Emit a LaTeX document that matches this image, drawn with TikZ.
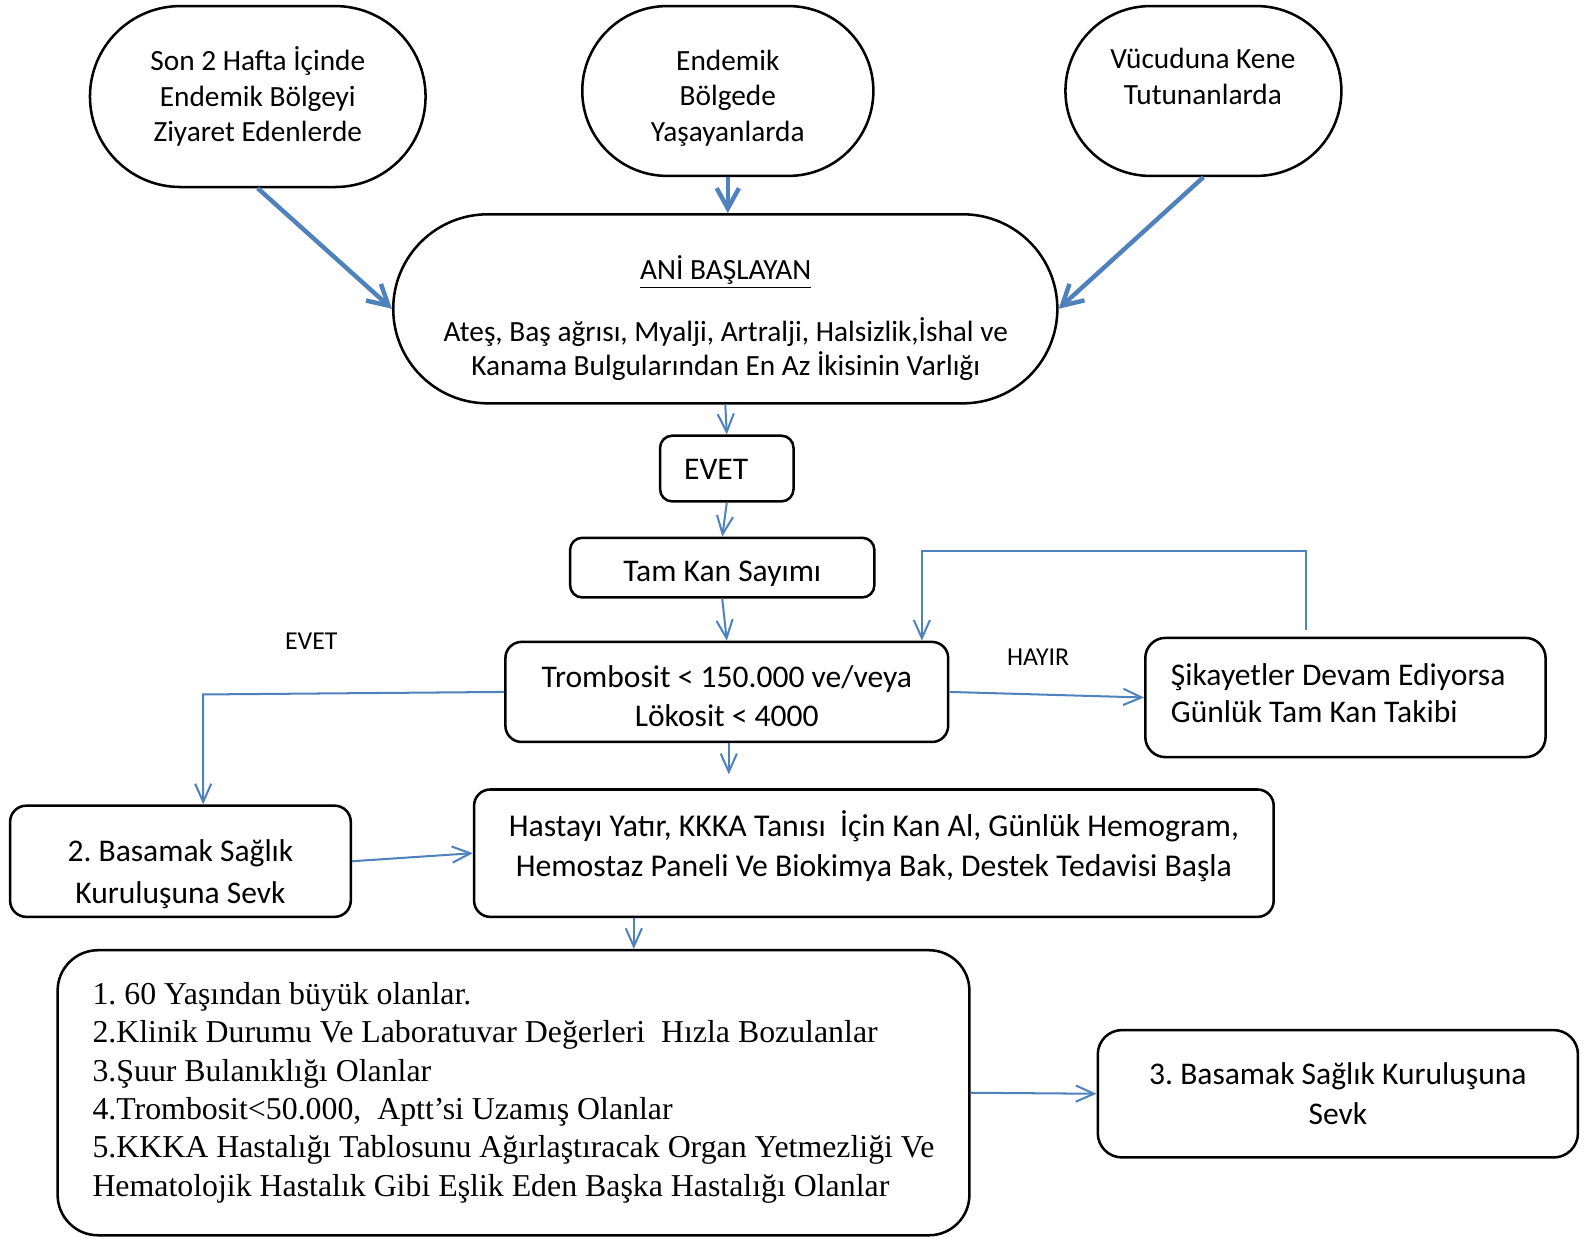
\documentclass[tikz,border=0pt]{standalone}
\usepackage{fontspec}
\setmainfont{Carlito}
\newfontfamily\tnr{Liberation Serif}
\usetikzlibrary{arrows.meta,shapes.misc}
\definecolor{arrblue}{RGB}{79,129,189}
\frenchspacing
\tikzset{
  box/.style={draw, line width=1.25pt, inner sep=0pt, align=center},
  term/.style={box, rounded rectangle},
  txt/.style={inner sep=0pt, align=center},
  thickarr/.style={draw=arrblue, line width=2.2pt, -{Straight Barb[length=10pt,width=11pt]}},
  thinarr/.style={draw=arrblue, line width=1pt, -{Straight Barb[length=9pt,width=8pt]}},
  fA/.style={font=\fontsize{14.5pt}{17.5pt}\selectfont},
  fB/.style={font=\fontsize{15.6pt}{19pt}\selectfont},
  lab/.style={font=\fontsize{12.75pt}{15pt}\selectfont, inner sep=0pt},
}
\begin{document}
\begin{tikzpicture}[x=0.5pt,y=-0.5pt]
\useasboundingbox (0,0) rectangle (1568,1223);
% terminators
\node[term, fA, minimum width=166pt, minimum height=89.5pt] (o1) at (255,95.5)
  {Son 2 Hafta İçinde\\Endemik Bölgeyi\\Ziyaret Edenlerde};
\node[term, minimum width=144pt, minimum height=84pt] (o2) at (720,90) {};
\node[txt, fA] (o2t) at (720,97) {Endemik\\Bölgede\\Yaşayanlarda};
\node[term, minimum width=136.5pt, minimum height=84pt] (o3) at (1190.5,90) {};
\node[txt, fA] (o3t) at (1190,75.5) {Vücuduna Kene\\Tutunanlarda};
\node[term, minimum width=328.5pt, minimum height=93.5pt] (big) at (717.5,305.5) {};
\node[txt, font=\fontsize{14.5pt}{17pt}\selectfont] (bigt) at (718,314.5)
  {\underline{ANİ BAŞLAYAN}\\[13.5pt]Ateş, Baş ağrısı, Myalji, Artralji, Halsizlik,İshal ve\\Kanama Bulgularından En Az İkisinin Varlığı};
% boxes
\node[box, rounded corners=6pt, minimum width=66pt, minimum height=32.5pt] (evet) at (719,463.5) {};
\node[txt, fB] (evett) at (708.5,464.5) {EVET};
\node[box, rounded corners=6pt, minimum width=150.5pt, minimum height=29.5pt] (tks) at (714.5,561.5) {};
\node[txt, fB] (tkst) at (714.5,567.5) {Tam Kan Sayımı};
\node[box, rounded corners=8pt, minimum width=219pt, minimum height=49.5pt] (tromb) at (719,684.5) {};
\node[txt, fB] (trombt) at (719,688.5) {Trombosit < 150.000 ve/veya\\Lökosit < 4000};
\node[box, rounded corners=10pt, minimum width=198pt, minimum height=59pt] (sik) at (1331,690) {};
\node[txt, align=left, anchor=west, font=\fontsize{15.6pt}{18.5pt}\selectfont] (sikt) at (1158,685.5)
  {Şikayetler Devam Ediyorsa\\Günlük Tam Kan Takibi};
\node[box, rounded corners=8pt, minimum width=168.5pt, minimum height=55pt] (bas2) at (178.5,852) {};
\node[txt, font=\fontsize{15.6pt}{20.5pt}\selectfont] (bas2t) at (178.5,865) {2. Basamak Sağlık\\Kuruluşuna Sevk};
\node[box, rounded corners=8pt, minimum width=395.5pt, minimum height=63pt] (hasta) at (864.5,844) {};
\node[txt, font=\fontsize{15.7pt}{19.5pt}\selectfont] (hastat) at (864.5,837)
  {Hastayı Yatır, KKKA Tanısı~ İçin Kan Al, Günlük Hemogram,\\Hemostaz Paneli Ve Biokimya Bak, Destek Tedavisi Başla};
\node[box, font=\tnr\fontsize{15.75pt}{19pt}\selectfont, align=left, rounded corners=20pt, minimum width=451pt, minimum height=141pt] (crit) at (508,1081)
  {1. 60 Yaşından büyük olanlar.\\
   2.Klinik Durumu Ve Laboratuvar Değerleri~ Hızla Bozulanlar\\
   3.Şuur Bulanıklığı Olanlar\\
   4.Trombosit<50.000,~ Aptt’si Uzamış Olanlar\\
   5.KKKA Hastalığı Tablosunu Ağırlaştıracak Organ Yetmezliği Ve\\
   Hematolojik Hastalık Gibi Eşlik Eden Başka Hastalığı Olanlar};
\node[box, font=\fontsize{15.6pt}{20pt}\selectfont, rounded corners=12pt, minimum width=237.5pt, minimum height=63pt] (bas3) at (1323.5,1082)
  {3. Basamak Sağlık Kuruluşuna\\Sevk};
% labels
\node[lab] (levet) at (308,634) {EVET};
\node[lab] (lhayir) at (1027,650) {HAYIR};
% coordinates
\coordinate (tfree) at (721,766);
\coordinate (lc) at (201,687);
\coordinate (lp1) at (1292,623);
\coordinate (lp2) at (912,545);
\coordinate (hc) at (627,0);
% thick arrows
\draw[thickarr] (o1.south) -- (big.west);
\draw[thickarr] (o2.south) -- (o2.south |- big.north);
\draw[thickarr] (o3.south) -- (big.east);
% thin arrows
\draw[thinarr] (big.south) -- (evet.north);
\draw[thinarr] (evet.south) -- (tks.north);
\draw[thinarr] (tks.south) -- (tromb.north);
\draw[thinarr] (tfree |- tromb.south) -- (tfree);
\draw[thinarr] (tromb.west) -- (lc) -- (lc |- bas2.north);
\draw[thinarr] (tromb.east) -- (sik.west);
\draw[thinarr] (lp1) |- (lp2) -- (lp2 |- tromb.north);
\draw[thinarr] (bas2.east) -- (hasta.west);
\draw[thinarr] (hc |- hasta.south) -- (hc |- crit.north);
\draw[thinarr] (crit.east) -- (bas3.west);
\end{tikzpicture}
\end{document}
